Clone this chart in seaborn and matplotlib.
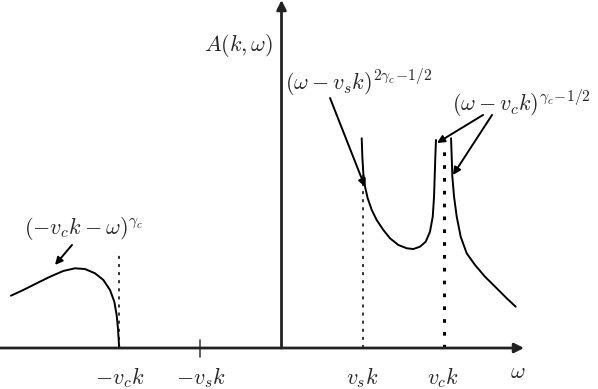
import numpy as np
import pandas as pd
import matplotlib
matplotlib.use('Agg')
import matplotlib.pyplot as plt
import seaborn as sns

# Schematic spectral function A(k, w); omega in units of v_s k (v_c k = 2)
omega_left = [-3.340, -3.188, -3.022, -2.858, -2.694, -2.549, -2.426, -2.302, -2.199,
              -2.117, -2.064, -2.035, -2.019, -2.006, -2.0]
A_left = [0.646, 0.716, 0.799, 0.880, 0.951, 0.984, 0.975, 0.922, 0.840,
          0.716, 0.572, 0.407, 0.243, 0.037, 0.0]

omega_mid = [0.990, 0.998, 1.010, 1.031, 1.064, 1.114, 1.175, 1.257, 1.340, 1.442,
             1.546, 1.627, 1.710, 1.780, 1.833, 1.867, 1.883, 1.891, 1.899, 1.907]
A_mid = [2.589, 2.362, 2.157, 1.991, 1.848, 1.704, 1.580, 1.457, 1.354, 1.272,
         1.231, 1.222, 1.251, 1.312, 1.436, 1.621, 1.868, 2.115, 2.362, 2.568]

omega_right = [2.093, 2.101, 2.109, 2.130, 2.163, 2.212, 2.286, 2.389, 2.512, 2.657, 2.780, 2.891]
A_right = [2.589, 2.362, 2.115, 1.868, 1.621, 1.374, 1.169, 1.025, 0.880, 0.737, 0.614, 0.510]

tick_pos = [-2, -1, 1, 2]
tick_labels = [r'$-v_ck$', r'$-v_sk$', r'$v_sk$', r'$v_ck$']

# dotted guide lines: (position, height)
guide_neg_c = (-2, 1.18)
guide_s = (1, 2.30)
guide_c = (2, 2.44)

sns.set_theme(style='white')
plt.rcParams['mathtext.fontset'] = 'cm'
plt.rcParams['font.family'] = ['DejaVu Sans']

fig = plt.figure(figsize=(5.98, 3.89), dpi=100)
ax = fig.add_axes([0, 0, 1, 1])
ax.axis('off')
ax.set_xlim(-3.475, 3.907)
ax.set_ylim(-0.506, 4.296)

curves = pd.concat([
    pd.DataFrame({'omega': omega_left, 'A': A_left, 'branch': 'left'}),
    pd.DataFrame({'omega': omega_mid, 'A': A_mid, 'branch': 'mid'}),
    pd.DataFrame({'omega': omega_right, 'A': A_right, 'branch': 'right'}),
])
sns.lineplot(data=curves, x='omega', y='A', units='branch', estimator=None,
             sort=False, color='black', lw=1.4, ax=ax)

# axes with arrow heads
axis_col = '#222222'
ax.annotate('', xy=(2.994, 0), xytext=(-3.475, 0),
            arrowprops=dict(arrowstyle='-|>', color=axis_col, lw=2.0,
                            mutation_scale=14, shrinkA=0, shrinkB=0))
ax.annotate('', xy=(0, 4.296), xytext=(0, 0),
            arrowprops=dict(arrowstyle='-|>', color=axis_col, lw=2.0,
                            mutation_scale=14, shrinkA=0, shrinkB=0))

# small tick at -v_s k
ax.plot([-1, -1], [-0.11, 0.10], color='#444444', lw=1.2)

# dotted guides
for pos, h in [guide_neg_c, guide_s]:
    ax.plot([pos, pos], [0, h], color='black', lw=1.1, linestyle=(0, (2, 3.3)))
ax.plot([guide_c[0]] * 2, [0, guide_c[1]], color='black', lw=2.2, linestyle=(0, (1.2, 3.0)))

# tick labels
for p, lab in zip(tick_pos, tick_labels):
    ax.text(p, -0.36, lab, ha='center', va='center', fontsize=16)
ax.text(2.92, -0.30, r'$\omega$', ha='center', va='center', fontsize=16)
ax.text(-0.525, 3.74, r'$A(k,\omega)$', ha='center', va='center', fontsize=16)

# annotations
arrow_kw = dict(arrowstyle='-|>', color='black', lw=1.4, mutation_scale=11,
                shrinkA=0, shrinkB=0)
ax.text(-2.44, 1.48, r'$(-v_ck-\omega)^{\gamma_c}$', ha='center', va='center', fontsize=16)
ax.annotate('', xy=(-2.796, 1.025), xytext=(-2.586, 1.272), arrowprops=arrow_kw)

ax.text(0.95, 3.28, r'$(\omega-v_sk)^{2\gamma_c\!-\!1/2}$', ha='center', va='center', fontsize=16)
ax.annotate('', xy=(1.031, 1.988), xytext=(0.599, 3.086), arrowprops=arrow_kw)

ax.text(2.96, 3.02, r'$(\omega-v_ck)^{\gamma_c\!-\!1/2}$', ha='center', va='center', fontsize=16)
ax.annotate('', xy=(1.920, 2.531), xytext=(2.488, 2.877), arrowprops=arrow_kw)
ax.annotate('', xy=(2.117, 2.136), xytext=(2.599, 2.877), arrowprops=arrow_kw)

fig.savefig('out.png', dpi=100)
